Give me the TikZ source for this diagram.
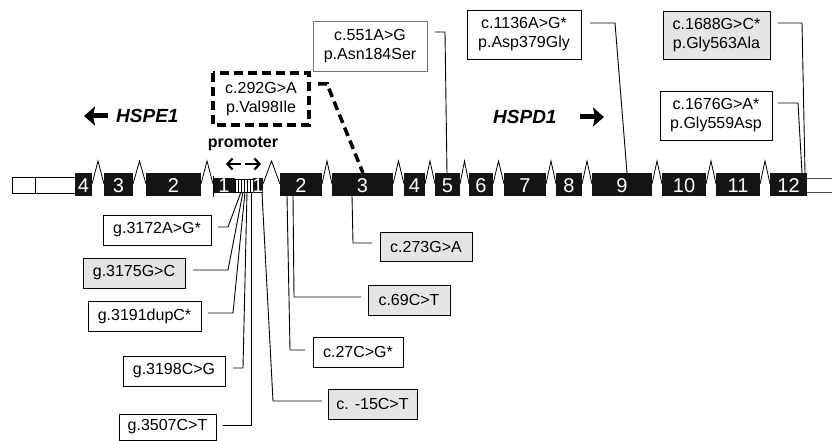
\documentclass[tikz,border=0pt]{standalone}
\usepackage{fontspec}
\setmainfont{Liberation Sans}
\usetikzlibrary{arrows.meta}
\begin{document}
\begin{tikzpicture}[x=1pt,y=-1pt,
  lab/.style={draw=black,line width=0.9pt,fill=white,inner sep=0pt,align=center,font=\fontsize{16}{19}\selectfont},
  labg/.style={lab,fill=black!10},
  conn/.style={line width=0.9pt,black},
  exon/.style={fill=black!92,draw=none},
  enum/.style={text=white,font=\fontsize{20}{20}\selectfont,inner sep=0pt},
  intron/.style={line width=0.8pt,black},
  genearrow/.style={line width=5pt,-{Stealth[length=11pt,width=19pt,inset=2pt]}}]
\useasboundingbox (0,0) rectangle (832,441);
% left UTR
\draw[line width=0.8pt,fill=white] (12,177) rectangle (75,193);
\draw[line width=0.8pt] (35,177) -- (35,193);
% right UTR
\draw[line width=0.9pt,black!70] (807,178) -- (832,178) (807,192) -- (832,192);
% introns
\foreach \a/\b in {92/104,133/146,201/213,263/280,322/332,393/404,425/435,460/469,493/504,546/556,582/592,652/662,706/716,760/770}{
  \draw[intron] (\a,184) -- ({(\a+\b)/2},161) -- (\b,184);
}
% exons
\foreach \a/\b/\t in {75/92/4,104/133/3,146/201/2,280/322/2,332/393/3,404/425/4,435/460/5,469/493/6,504/546/7,556/582/8,592/652/9,662/706/10,716/760/11,770/807/12}{
  \fill[exon] (\a,173) rectangle (\b,196);
  \node[enum] at ({(\a+\b)/2},185.5) {\t};
}
% exon 1 HSPE1 and HSPD1 (short)
\fill[exon] (213,178) rectangle (235,193);
\node[enum] at (224,186) {1};
\draw[line width=1.6pt] (213.5,176) -- (213.5,197);
\draw[line width=0.6pt,fill=white] (235,179) rectangle (253,192);
\foreach \x in {238,241,244,247,250}{\draw[line width=0.9pt] (\x,179) -- (\x,192);}
\fill[exon] (253,178) rectangle (263,193);
\node[enum] at (258,186) {1};
% gene names
\node[font=\fontsize{19}{19}\selectfont\bfseries\itshape,anchor=west,inner sep=0pt] (hspe) at (116,116) {HSPE1};
\coordinate (la1) at (108,116);
\coordinate (la2) at (84,116);
\draw[genearrow] (la1) -- (la2);
\node[font=\fontsize{19}{19}\selectfont\bfseries\itshape,anchor=west,inner sep=0pt] (hspd) at (493,117) {HSPD1};
\coordinate (ra1) at (580,117);
\coordinate (ra2) at (604,117);
\draw[genearrow] (ra1) -- (ra2);
\node[font=\fontsize{16}{16}\selectfont\bfseries,inner sep=0pt] (prom) at (243,144) {promoter};
\coordinate (pl) at (226,164);
\coordinate (pr) at (261,164);
\draw[line width=2.2pt,-{Straight Barb[length=5pt,width=11pt]}] (241,164) -- (pl);
\draw[line width=2.2pt,-{Straight Barb[length=5pt,width=11pt]}] (245,164) -- (pr);
% top callouts
\node[lab,draw=none,minimum width=96pt,minimum height=52pt] (d292) at (261,99) {c.292G>A\\p.Val98Ile};
\draw[line width=3.5pt,dash pattern=on 9pt off 5pt] (213,73) rectangle (309,125);
\coordinate (d292a) at (318,84);
\coordinate (d292b) at (327,84);
\coordinate (e3t) at (363,173);
\draw[line width=3.5pt,dash pattern=on 9pt off 5pt] (d292a) -- (d292b) -- (e3t);

\node[lab,draw=black!55,minimum width=114pt,minimum height=50pt] (a551) at (370,46) {c.551A>G\\p.Asn184Ser};
\coordinate (a551e) at (447,173);
\draw[conn] (435,32) -- (445,32) -- (a551e);

\node[lab,minimum width=114pt,minimum height=49pt] (a1136) at (524,34.5) {c.1136A>G*\\p.Asp379Gly};
\coordinate (a1136e) at (627,173);
\draw[conn] (590,23) -- (615,23) -- (a1136e);

\node[labg,minimum width=107pt,minimum height=48pt] (g1688) at (716.5,35) {c.1688G>C*\\p.Gly563Ala};
\coordinate (g1688e) at (805,173);
\draw[conn] (778,23) -- (802,23) -- (g1688e);

\node[lab,minimum width=112pt,minimum height=49pt] (g1676) at (716,115.5) {c.1676G>A*\\p.Gly559Asp};
\coordinate (g1676e) at (802,173);
\draw[conn] (778,103) -- (798,103) -- (g1676e);

% bottom-left callouts
\node[lab,minimum width=108pt,minimum height=30pt] (g3172) at (157,230) {g.3172A>G*};
\draw[conn] (218,227) -- (228,227) -- (241,192);
\node[labg,minimum width=102pt,minimum height=30pt] (g3175) at (134,273) {g.3175G>C};
\draw[conn] (193,270) -- (228,270) -- (243,192);
\node[lab,minimum width=113pt,minimum height=30pt] (g3191) at (144.5,316) {g.3191dupC*};
\draw[conn] (208,313) -- (233,313) -- (245,192);
\node[lab,minimum width=102pt,minimum height=30pt] (g3198) at (174,371) {g.3198C>G};
\draw[conn] (233,368) -- (243,368) -- (247,192);
\node[lab,minimum width=97pt,minimum height=26pt] (g3507) at (167.5,427) {g.3507C>T};
\draw[conn] (223,425) -- (251,425) -- (251,192);

% bottom-right callouts
\node[labg,minimum width=92pt,minimum height=29pt] (c273) at (426,246.5) {c.273G>A};
\draw[conn] (372,243) -- (353,243) -- (352,196);
\node[labg,minimum width=82pt,minimum height=30pt] (c69) at (409,300) {c.69C>T};
\draw[conn] (361,297) -- (294,297) -- (293,196);
\node[lab,minimum width=90pt,minimum height=30pt] (c27) at (358,352) {c.27C>G*};
\draw[conn] (305,350) -- (290,350) -- (287,196);
\node[labg,minimum width=89pt,minimum height=30pt] (c15) at (372.5,404) {c. -15C>T};
\draw[conn] (322,401) -- (273,401) -- (262,193);
\end{tikzpicture}
\end{document}
